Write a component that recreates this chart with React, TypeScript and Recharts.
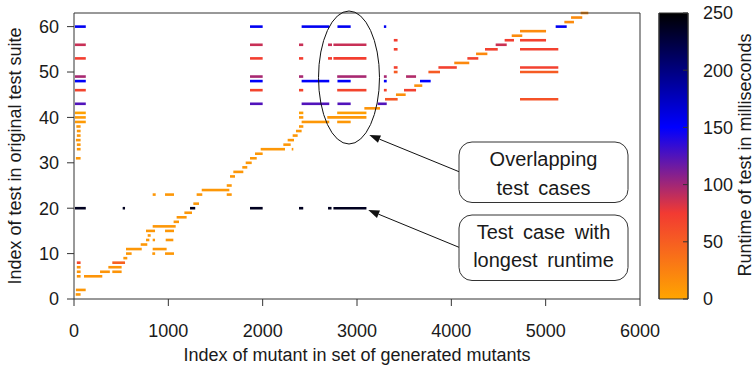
import { ComposedChart, Line, XAxis, YAxis, BarChart, Bar } from 'recharts'

// [test index, first mutant, last mutant, runtime in ms]
type Seg = [number, number, number, number]

const FONT = '"Liberation Sans", Arial, Helvetica, sans-serif'

const xTicks = [0, 1000, 2000, 3000, 4000, 5000, 6000]
const yTicks = [0, 10, 20, 30, 40, 50, 60]
const runtimeTicks = [0, 50, 100, 150, 200, 250]

// colour palette of the runtime scale
const palette: [number, string][] = [
  [0, '#ffa500'],
  [75, '#f23a32'],
  [150, '#0000ff'],
  [250, '#000000'],
]

const firstMutants: Seg[] = [
  [60, 10, 125, 155], [56, 10, 125, 88], [53, 10, 125, 72], [49, 10, 125, 98],
  [48, 10, 125, 152], [46, 10, 125, 68], [43, 10, 125, 125], [41, 10, 125, 3],
  [40, 10, 125, 8], [39, 10, 125, 8], [38, 25, 70, 10], [37, 30, 70, 10],
  [36, 30, 70, 10], [35, 20, 70, 10], [34, 30, 70, 10], [33, 30, 70, 10],
  [31, 20, 70, 10], [8, 30, 70, 65], [7, 30, 70, 12], [6, 30, 70, 12],
  [5, 30, 70, 12], [2, 20, 124, 10], [1, 18, 70, 10],
]

const lowerStairs: Seg[] = [
  [5, 106, 300, 12], [6, 276, 380, 12], [6, 406, 505, 12], [7, 364, 505, 12],
  [8, 406, 541, 48], [9, 523, 565, 10], [10, 551, 611, 10], [10, 830, 860, 10],
  [10, 965, 1060, 10], [11, 551, 718, 10], [11, 834, 982, 10], [12, 707, 777, 10],
  [13, 763, 799, 10], [13, 834, 859, 10], [13, 972, 1053, 10], [14, 781, 813, 10],
  [15, 763, 859, 10], [15, 965, 1060, 10], [16, 834, 1078, 10], [17, 1056, 1113, 10],
  [18, 1088, 1194, 10], [19, 1170, 1251, 10], [21, 1265, 1325, 10], [23, 834, 866, 10],
  [23, 965, 1060, 10], [23, 1300, 1360, 10], [23, 1619, 1672, 10], [24, 1354, 1647, 10],
  [25, 1619, 1672, 10], [27, 1654, 1707, 10], [28, 1689, 1795, 10], [29, 1784, 1837, 10],
  [30, 1820, 1884, 10], [31, 1866, 1937, 10], [32, 1919, 2000, 10], [33, 1979, 2237, 10],
  [33, 2308, 2325, 10], [34, 2219, 2297, 10], [35, 2265, 2332, 10], [36, 2318, 2371, 10],
  [37, 2353, 2413, 10], [38, 2385, 2431, 10], [39, 2413, 2706, 10], [39, 2790, 2933, 10],
  [40, 2385, 2431, 10], [40, 2685, 3100, 10], [41, 2385, 2431, 5], [41, 2790, 3100, 5],
]

const upperStairs: Seg[] = [
  [42, 3078, 3244, 12], [43, 3219, 3315, 125], [44, 3297, 3431, 55], [45, 3413, 3516, 15],
  [46, 3498, 3626, 70], [47, 3607, 3692, 15], [48, 3668, 3781, 150], [49, 3520, 3626, 95],
  [50, 3757, 3880, 52], [51, 3863, 4058, 70], [52, 4031, 4190, 20], [53, 4170, 4286, 70],
  [54, 4262, 4382, 20], [55, 4357, 4492, 70], [56, 4470, 4587, 87], [57, 4565, 4664, 72],
  [58, 4640, 4752, 18], [60, 5106, 5223, 155], [61, 5198, 5300, 18], [62, 5269, 5388, 18],
  [63, 5371, 5452, 18],
]

const around2000: Seg[] = [
  [60, 1866, 2000, 155], [56, 1866, 2000, 88], [53, 1866, 2000, 72], [49, 1866, 2000, 98],
  [48, 1866, 2000, 152], [46, 1866, 2000, 68], [43, 1866, 2000, 125],
]

const overlapping: Seg[] = [
  [60, 2413, 2706, 155], [60, 2793, 2933, 155],
  [56, 2385, 2430, 88], [56, 2693, 2735, 88], [56, 2750, 3100, 88],
  [53, 2385, 2430, 72], [53, 2693, 2735, 72], [53, 2750, 3100, 72],
  [49, 2385, 2430, 98], [49, 2790, 3100, 98],
  [48, 2413, 2706, 152], [48, 2793, 2933, 152],
  [46, 2385, 2430, 68], [46, 2790, 3100, 68],
  [43, 2413, 2706, 125], [43, 2793, 2933, 125],
  [60, 3285, 3310, 155], [49, 3285, 3315, 98], [48, 3285, 3315, 152], [46, 3285, 3315, 68],
  [57, 3390, 3430, 72], [55, 3390, 3430, 70], [51, 3390, 3430, 70], [50, 3390, 3430, 52],
]

const lateMutants: Seg[] = [
  [59, 4728, 5004, 18], [57, 4728, 5004, 70], [55, 4728, 5134, 70],
  [51, 4728, 5134, 70], [50, 4728, 5134, 52], [44, 4728, 5134, 58],
]

// test 20: the slowest test case
const longestRuntime: Seg[] = [
  [20, 10, 125, 238], [20, 516, 541, 238], [20, 1230, 1285, 238], [20, 1866, 2000, 238],
  [20, 2385, 2430, 238], [20, 2693, 2730, 238], [20, 2750, 3100, 238],
]

const segments = [
  ...lowerStairs, ...upperStairs, ...firstMutants, ...around2000,
  ...overlapping, ...lateMutants, ...longestRuntime,
]

const colorbarData = [{ name: 'runtime', v: 250 }]

function hexToRgb(h: string) {
  const n = parseInt(h.slice(1), 16)
  return [(n >> 16) & 255, (n >> 8) & 255, n & 255]
}

function runtimeColor(ms: number) {
  for (let i = 1; i < palette.length; i++) {
    const [v0, c0] = palette[i - 1]
    const [v1, c1] = palette[i]
    if (ms <= v1 || i === palette.length - 1) {
      const t = Math.max(0, Math.min(1, (ms - v0) / (v1 - v0)))
      const a = hexToRgb(c0)
      const b = hexToRgb(c1)
      return `rgb(${a.map((x, k) => Math.round(x + (b[k] - x) * t)).join(',')})`
    }
  }
  return palette[0][1]
}

const tickStyle = { fill: '#1a1a1a', fontSize: 18, fontFamily: FONT }
const axisColor = '#333'

function Arrow({ from, to }: { from: [number, number]; to: [number, number] }) {
  const dx = to[0] - from[0]
  const dy = to[1] - from[1]
  const len = Math.hypot(dx, dy)
  const ux = dx / len
  const uy = dy / len
  const hl = 11
  const hw = 4
  const bx = to[0] - ux * hl
  const by = to[1] - uy * hl
  return (
    <g>
      <line x1={from[0]} y1={from[1]} x2={bx} y2={by} stroke="#111" strokeWidth={1} />
      <polygon
        points={`${to[0]},${to[1]} ${bx - uy * hw},${by + ux * hw} ${bx + uy * hw},${by - ux * hw}`}
        fill="#111"
      />
    </g>
  )
}

export default function App() {
  return (
    <div style={{ position: 'absolute', left: 0, top: 0, width: 756, height: 367, background: '#fff', fontFamily: FONT }}>
      <div style={{ position: 'absolute', left: 0, top: 0 }}>
        <ComposedChart width={756} height={367} margin={{ top: 12, right: 115, bottom: 38, left: 14 }}>
          <XAxis
            dataKey="x"
            type="number"
            domain={[0, 6000]}
            ticks={xTicks}
            height={30}
            tickSize={7}
            tickMargin={18}
            stroke={axisColor}
            tick={tickStyle}
          />
          <XAxis
            xAxisId="top"
            orientation="top"
            dataKey="x"
            type="number"
            domain={[0, 6000]}
            ticks={xTicks}
            height={1}
            tickSize={7}
            stroke={axisColor}
            tickFormatter={() => ''}
          />
          <YAxis
            type="number"
            domain={[0, 63]}
            ticks={yTicks}
            width={60}
            tickSize={7}
            tickMargin={8}
            stroke={axisColor}
            tick={tickStyle}
          />
          <YAxis
            yAxisId="right"
            orientation="right"
            type="number"
            domain={[0, 63]}
            ticks={yTicks}
            width={1}
            tickSize={7}
            stroke={axisColor}
            tickFormatter={() => ''}
          />
          {segments.map(([y, x0, x1, ms], i) => (
            <Line
              key={i}
              data={[{ x: x0, y }, { x: x1, y }]}
              dataKey="y"
              stroke={runtimeColor(ms)}
              strokeWidth={2.6}
              dot={false}
              activeDot={false}
              isAnimationActive={false}
            />
          ))}
        </ComposedChart>
      </div>

      <div style={{ position: 'absolute', left: 0, top: 0 }}>
        <BarChart
          width={756}
          height={367}
          data={colorbarData}
          margin={{ top: 13, right: 67, bottom: 68, left: 658 }}
          barCategoryGap={0}
        >
          <defs>
            <linearGradient id="runtimeGrad" x1="0" y1="1" x2="0" y2="0">
              {palette.map(([v, c]) => (
                <stop key={v} offset={v / 250} stopColor={c} />
              ))}
            </linearGradient>
          </defs>
          <XAxis dataKey="name" hide />
          <Bar yAxisId="r" dataKey="v" fill="url(#runtimeGrad)" stroke={axisColor} isAnimationActive={false} />
          <YAxis
            yAxisId="l"
            orientation="left"
            type="number"
            domain={[0, 250]}
            ticks={runtimeTicks}
            width={1}
            tickSize={-5}
            stroke={axisColor}
            tickFormatter={() => ''}
          />
          <YAxis
            yAxisId="r"
            orientation="right"
            type="number"
            domain={[0, 250]}
            ticks={runtimeTicks}
            width={1}
            tickSize={-5}
            tickMargin={20}
            stroke={axisColor}
            tick={tickStyle}
          />
        </BarChart>
      </div>

      <svg width={756} height={367} style={{ position: 'absolute', left: 0, top: 0, pointerEvents: 'none' }}>
        <g fontFamily={FONT} fill="#1a1a1a">
          <text x={357} y={361} fontSize={18} textAnchor="middle">Index of mutant in set of generated mutants</text>
          <text transform="translate(21,156) rotate(-90)" fontSize={18} textAnchor="middle">Index of test in original test suite</text>
          <text transform="translate(751,155) rotate(-90)" fontSize={18} textAnchor="middle">Runtime of test in milliseconds</text>
        </g>
        <ellipse cx={349} cy={77.5} rx={30.5} ry={66.5} fill="none" stroke="#111" strokeWidth={1} />
        <Arrow from={[459, 171.7]} to={[369.3, 135]} />
        <Arrow from={[459, 247.3]} to={[368.3, 210]} />
        <rect x={459} y={142} width={169} height={60.5} rx={13} fill="#fff" stroke="#333" strokeWidth={1} />
        <rect x={459} y={215} width={169} height={65.5} rx={13} fill="#fff" stroke="#333" strokeWidth={1} />
        <g fontFamily={FONT} fill="#1a1a1a" fontSize={20} textAnchor="middle" style={{ wordSpacing: 4 }}>
          <text x={543.5} y={165.5}>Overlapping</text>
          <text x={543.5} y={195}>test cases</text>
          <text x={543.5} y={239}>Test case with</text>
          <text x={543.5} y={266.5}>longest runtime</text>
        </g>
      </svg>
    </div>
  )
}
